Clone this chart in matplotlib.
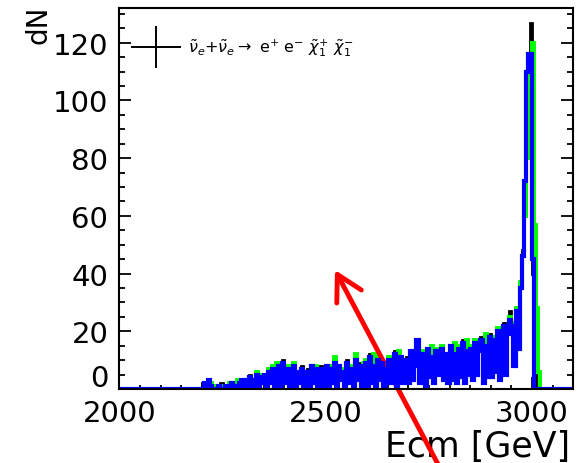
import numpy as np
import matplotlib
matplotlib.use("Agg")
import matplotlib.pyplot as plt
from matplotlib.transforms import ScaledTranslation

plt.rcParams['font.family'] = ['DejaVu Sans']
plt.rcParams['mathtext.fontset'] = 'dejavusans'

# ---- data: counts per 5 GeV bin, 2200 .. 3050 GeV ----
bin_start = 2200
bin_width = 5
x_range = (2000, 3100)

blue = [
    0, 2, 0, 3, 1, 0, 0, 0, 1, 0,
    0, 1, 0, 0, 2, 0, 1, 0, 2, 3,
    1, 3, 0, 4, 1, 3, 5, 0, 4, 2,
    5, 1, 6, 2, 7, 0, 6, 8, 1, 9,
    2, 7, 1, 6, 8, 0, 6, 2, 7, 1,
    3, 6, 0, 8, 2, 7, 1, 7, 0, 6,
    8, 1, 7, 2, 9, 0, 8, 3, 6, 1,
    9, 2, 7, 0, 10, 3, 8, 1, 6, 9,
    1, 11, 2, 8, 0, 10, 3, 9, 1, 7,
    10, 2, 6, 12, 1, 8, 11, 2, 7, 10,
    2, 13, 3, 8, 17, 2, 9, 12, 1, 14,
    4, 11, 2, 13, 5, 10, 14, 3, 12, 2,
    15, 3, 12, 2, 14, 4, 16, 2, 13, 5,
    14, 3, 16, 5, 13, 17, 2, 15, 4, 18,
    4, 17, 6, 20, 3, 16, 22, 5, 19, 24,
    22, 8, 27, 14, 35, 46, 72, 110, 116, 116,
    45, 0, 0, 0, 0, 0, 0, 0, 0, 0,
]

green = [
    0, 0, 1, 0, 2, 0, 0, 1, 0, 0,
    1, 0, 0, 2, 0, 0, 0, 3, 1, 2,
    2, 3, 1, 4, 1, 3, 6, 0, 5, 2,
    5, 1, 7, 4, 8, 0, 9, 8, 3, 8,
    2, 8, 1, 6, 9, 0, 6, 2, 7, 1,
    3, 6, 0, 7, 2, 8, 1, 7, 0, 6,
    7, 3, 8, 2, 11, 0, 8, 5, 7, 1,
    9, 4, 8, 0, 12, 3, 8, 1, 9, 10,
    3, 10, 2, 12, 0, 11, 3, 9, 4, 8,
    11, 4, 7, 12, 1, 13, 11, 2, 8, 10,
    5, 12, 3, 10, 16, 2, 13, 12, 3, 14,
    4, 15, 2, 14, 5, 11, 15, 6, 12, 2,
    14, 3, 16, 2, 15, 4, 16, 2, 17, 5,
    15, 6, 17, 5, 14, 17, 2, 19, 4, 18,
    4, 18, 6, 21, 3, 20, 22, 5, 20, 25,
    23, 8, 28, 16, 37, 46, 60, 80, 105, 112,
    120, 57, 28, 6, 0, 0, 0, 0, 0, 0,
]

black = [
    2, 0, 0, 1, 0, 0, 0, 0, 0, 2,
    0, 0, 0, 0, 0, 2, 0, 1, 0, 2,
    3, 1, 2, 5, 1, 3, 4, 1, 5, 2,
    4, 1, 6, 3, 7, 1, 6, 7, 1, 10,
    2, 7, 1, 7, 8, 1, 6, 2, 8, 1,
    3, 7, 1, 8, 2, 7, 1, 8, 0, 6,
    8, 1, 7, 3, 9, 1, 8, 3, 6, 2,
    10, 2, 7, 1, 10, 3, 9, 1, 6, 9,
    1, 12, 2, 8, 1, 10, 3, 10, 1, 7,
    10, 2, 7, 13, 1, 8, 11, 3, 7, 11,
    2, 13, 4, 8, 17, 2, 9, 13, 1, 14,
    4, 12, 2, 13, 5, 10, 15, 3, 12, 3,
    15, 3, 13, 2, 14, 4, 17, 2, 13, 5,
    14, 3, 16, 6, 13, 18, 2, 15, 4, 19,
    4, 18, 6, 20, 3, 16, 23, 5, 19, 27,
    19, 8, 28, 15, 36, 48, 60, 80, 106, 127,
    40, 5, 0, 0, 0, 0, 0, 0, 0, 0,
]

legend_label = (r'$\tilde{\nu}_{e}$+$\tilde{\nu}_{e}$$\rightarrow$ e$^{+}$ e$^{-}$ '
                r'$\tilde{\chi}^{+}_{1}$ $\tilde{\chi}^{-}_{1}$')
x_label = 'Ecm [GeV]'
y_label = 'dN'

# ---- build histogram edges over the full axis range ----
n = len(blue)
assert len(green) == n and len(black) == n
n_front = (bin_start - x_range[0]) // bin_width
n_back = (x_range[1] - (bin_start + n * bin_width)) // bin_width
edges = np.arange(x_range[0], x_range[1] + bin_width, bin_width)
pad = lambda v: np.concatenate([np.zeros(n_front), np.asarray(v, float), np.zeros(n_back)])
blue_f, green_f, black_f = pad(blue), pad(green), pad(black)

W, H = 579, 464
fig = plt.figure(figsize=(W / 100, H / 100), dpi=100)
ax = fig.add_axes([119.4 / W, 1 - 390 / H, (573.3 - 119.4) / W, (390 - 8.5) / H])

ax.stairs(black_f, edges, color='black', lw=2.0, zorder=2)
ax.stairs(green_f, edges, color='#00ff00', lw=2.8, zorder=3)
ax.stairs(blue_f, edges, color='#0000ff', lw=3.0, zorder=4)

ax.set_xlim(*x_range)
ax.set_ylim(0, 132.2)
ax.set_xticks([2000, 2500, 3000])
ax.set_xticks(np.arange(2000, 3101, 50), minor=True)
ax.set_yticks(np.arange(0, 121, 20))
ax.set_yticks(np.arange(0, 131, 5), minor=True)

for s in ax.spines.values():
    s.set_linewidth(1.5)
    s.set_zorder(6)

ax.tick_params(axis='both', which='both', direction='in', width=1.3, colors='black')
ax.tick_params(axis='y', which='major', length=8.5, labelsize=21, pad=8, right=True)
ax.tick_params(axis='y', which='minor', length=4.3, right=True)
ax.tick_params(axis='x', which='major', length=8.5, labelsize=21, pad=7, top=False)
ax.tick_params(axis='x', which='minor', length=3, top=False)

fig.canvas.draw()
# ROOT shifts the "0" label upward
for lbl in ax.get_yticklabels():
    if lbl.get_text() == '0':
        lbl.set_transform(lbl.get_transform() + ScaledTranslation(0, 0.14, fig.dpi_scale_trans))

ax.set_xlabel(x_label, loc='right', fontsize=25)
ax.xaxis.set_label_coords((570 - 119.4) / 454, (390 - 430) / 381.5)
ax.set_ylabel(y_label, loc='top', fontsize=20)
ax.yaxis.set_label_coords((52 - 119.4) / 454, (390 - 6) / 381.5)

# legend drawn manually (ROOT style cross marker)
ax.plot([0.0278, 0.1335], [0.8964, 0.8964], transform=ax.transAxes, color='black', lw=1.4, clip_on=False)
ax.plot([0.0806, 0.0806], [0.8443, 0.949], transform=ax.transAxes, color='black', lw=1.4, clip_on=False)
ax.text(0.151, 0.896, legend_label, transform=ax.transAxes, fontsize=11.5, va='center', ha='left')

# red annotation arrow overlaid on the figure
ax.annotate('', xy=(335, H - 271), xytext=(440, -5), xycoords='figure pixels',
            textcoords='figure pixels',
            arrowprops=dict(arrowstyle='->,head_length=0.45,head_width=0.25', color='red',
                            lw=3.5, mutation_scale=40, shrinkA=0, shrinkB=0),
            annotation_clip=False)

fig.savefig('out.png', dpi=100)
